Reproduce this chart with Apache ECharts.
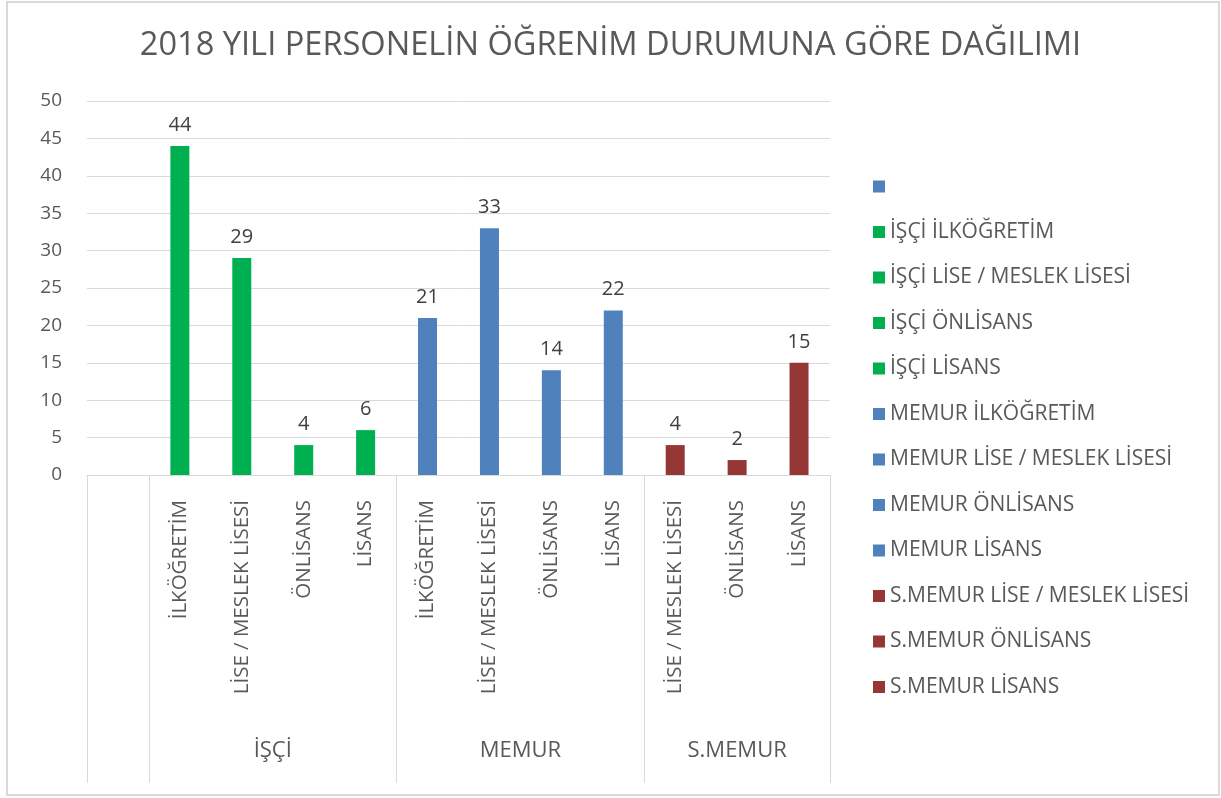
<!DOCTYPE html>
<html>
<head>
<meta charset="utf-8">
<title>2018 Personel Öğrenim Durumu</title>
<script src="https://cdn.jsdelivr.net/npm/echarts@6/dist/echarts.min.js"></script>
<style>
    html, body { margin: 0; padding: 0; background: #fff; }
    #chart { width: 1221px; height: 798px; }
</style>
</head>
<body>
<div id="chart"></div>
<script>
// alt kategori etiketleri (ilk dilim boş)
var categories = ['', 'İLKÖĞRETİM', 'LİSE / MESLEK LİSESİ', 'ÖNLİSANS', 'LİSANS',
    'İLKÖĞRETİM', 'LİSE / MESLEK LİSESİ', 'ÖNLİSANS', 'LİSANS',
    'LİSE / MESLEK LİSESİ', 'ÖNLİSANS', 'LİSANS']
// her kategori için seri adı (lejant)
var seriesNames = [' ', 'İŞÇİ İLKÖĞRETİM', 'İŞÇİ LİSE / MESLEK LİSESİ', 'İŞÇİ ÖNLİSANS', 'İŞÇİ LİSANS',
    'MEMUR İLKÖĞRETİM', 'MEMUR LİSE / MESLEK LİSESİ', 'MEMUR ÖNLİSANS', 'MEMUR LİSANS',
    'S.MEMUR LİSE / MESLEK LİSESİ', 'S.MEMUR ÖNLİSANS', 'S.MEMUR LİSANS']
var values = [null, 44, 29, 4, 6, 21, 33, 14, 22, 4, 2, 15]
var groupNames = ['', 'İŞÇİ', 'MEMUR', 'S.MEMUR']
var groupSizes = [1, 4, 4, 3]
var groupColors = ['#4f81bd', '#00b050', '#4f81bd', '#953735']
var yTicks = [0, 5, 10, 15, 20, 25, 30, 35, 40, 45, 50]

var textColor = '#595959'
var lineColor = '#d9d9d9'
var fontFamily = '"Open Sans", "Noto Sans", sans-serif'

// grup sınırları ve ortaları
var boundaries = [0]
var centers = []
var colors = []
for (var g = 0; g < groupSizes.length; g++) {
    var start = boundaries[boundaries.length - 1]
    centers.push(start + groupSizes[g] / 2)
    boundaries.push(start + groupSizes[g])
    for (var k = 0; k < groupSizes[g]; k++) colors.push(groupColors[g])
}

var srs = []
for (var i = 0; i < categories.length; i++) {
    var data = []
    for (var j = 0; j < categories.length; j++) {
        data.push(j == i && values[i] != null ? values[i] : '-')
    }
    srs.push({
        name: seriesNames[i],
        type: 'bar',
        stack: 'all',
        barWidth: 19,
        data: data,
        itemStyle: { color: colors[i] },
        label: {
            show: true,
            position: 'top',
            distance: 11,
            color: '#404040',
            fontFamily: fontFamily,
            fontSize: 20
        }
    })
}

var chart = echarts.init(document.getElementById('chart'))
var option = {
    animation: false,
    title: {
        text: '2018 YILI PERSONELİN ÖĞRENİM DURUMUNA GÖRE DAĞILIMI',
        left: 'center',
        top: 24,
        textStyle: {
            color: textColor,
            fontFamily: fontFamily,
            fontWeight: 'normal',
            fontSize: 32.6
        }
    },
    legend: {
        orient: 'vertical',
        left: 873,
        top: 176,
        padding: 0,
        icon: 'rect',
        itemWidth: 12,
        itemHeight: 12,
        itemGap: 24.5,
        textStyle: {
            color: textColor,
            fontFamily: fontFamily,
            fontSize: 21,
            lineHeight: 20
        },
        data: seriesNames
    },
    grid: {
        left: 87,
        right: 391,
        top: 101,
        bottom: 323
    },
    xAxis: [{
        type: 'category',
        data: categories,
        axisLine: { show: true, lineStyle: { color: lineColor } },
        axisTick: {
            show: true,
            length: 308,
            lineStyle: { color: lineColor, width: 1 },
            interval: function(index) {
                return boundaries.indexOf(index) != -1
            }
        },
        axisLabel: {
            rotate: 90,
            interval: 0,
            margin: 25,
            color: textColor,
            fontFamily: fontFamily,
            fontSize: 20.5
        }
    }, {
        type: 'value',
        min: 0,
        max: categories.length,
        interval: 0.5,
        position: 'bottom',
        axisLine: { show: false },
        axisTick: { show: false },
        splitLine: { show: false },
        axisLabel: {
            margin: 265,
            color: textColor,
            fontFamily: fontFamily,
            fontSize: 22,
            formatter: function(v) {
                var idx = centers.indexOf(v)
                return idx == -1 ? '' : groupNames[idx]
            }
        }
    }],
    yAxis: {
        type: 'value',
        min: yTicks[0],
        max: yTicks[yTicks.length - 1],
        interval: yTicks[1] - yTicks[0],
        axisLine: { show: false },
        axisTick: { show: false },
        splitLine: { lineStyle: { color: lineColor } },
        axisLabel: {
            margin: 25,
            color: textColor,
            fontFamily: fontFamily,
            fontSize: 19
        }
    },
    graphic: [{
        type: 'rect',
        shape: { x: 7, y: 2, width: 1212, height: 793 },
        style: { fill: null, stroke: lineColor, lineWidth: 2 },
        silent: true
    }],
    series: srs
}
chart.setOption(option)
</script>
</body>
</html>
